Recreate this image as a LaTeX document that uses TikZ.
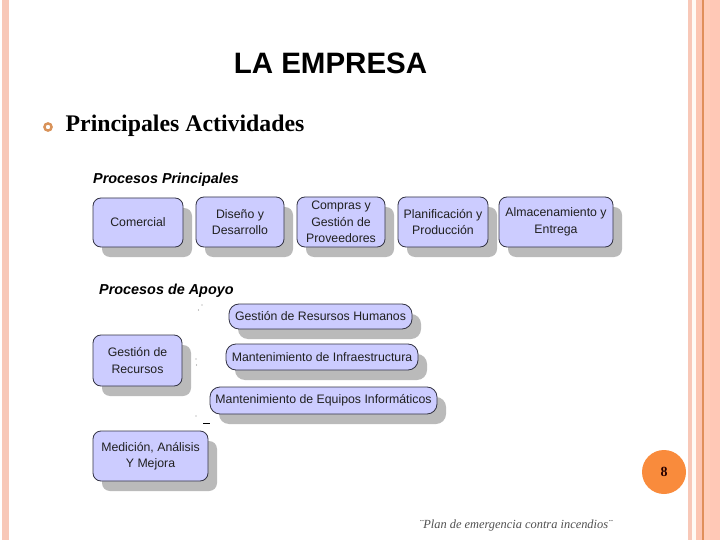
\documentclass[tikz,border=0pt]{standalone}
\usepackage{fontspec}
\setmainfont{Liberation Serif}
\setsansfont{Liberation Sans}
\usetikzlibrary{shadows}
\definecolor{boxfill}{HTML}{CCCCFF}
\definecolor{boxline}{HTML}{333344}
\definecolor{boxtext}{HTML}{202020}
\definecolor{stripeA}{HTML}{F8C8B8}
\definecolor{stripeB}{HTML}{FCC6B2}
\definecolor{stripeC}{HTML}{FFCDB8}
\definecolor{stripeD}{HTML}{FFC8B6}
\definecolor{stripeLine}{HTML}{E0905A}
\definecolor{cream}{HTML}{FFFAF4}
\definecolor{bulletc}{HTML}{D9935A}
\definecolor{pageorange}{HTML}{F98B3C}
\definecolor{footgray}{HTML}{505050}
\begin{document}
\begin{tikzpicture}[x=1pt,y=-1pt,
  procbox/.style={draw=boxline, fill=boxfill, rounded corners=8pt, line width=0.8pt,
    font=\sffamily\fontsize{12.3}{16.5}\selectfont, text=boxtext, align=center, inner sep=0pt,
    drop shadow={shadow xshift=9pt, shadow yshift=-10pt, fill=black!27, opacity=1}},
  pillbox/.style={procbox, rounded corners=10pt},
  heading/.style={font=\sffamily\bfseries\itshape\fontsize{14.4}{17}\selectfont, anchor=west, inner sep=0pt},
  speck/.style={fill=black!45}]
\useasboundingbox (0,0) rectangle (720,540);
\fill[white] (0,0) rectangle (720,540);
% left stripe
\fill[stripeA] (2,0) rectangle (9,540);
% right stripes
\fill[stripeA] (688,0) rectangle (692,540);
\fill[cream] (692,0) rectangle (696,540);
\fill[stripeB] (696,0) rectangle (702,540);
\fill[stripeLine] (702,0) rectangle (703.5,540);
\fill[stripeC] (703.5,0) rectangle (710,540);
\fill[stripeD] (710,0) rectangle (720,540);
% title
\node[font=\sffamily\bfseries\fontsize{29.5}{35}\selectfont] (title) at (330.5,63) {LA EMPRESA};
% bullet
\draw[bulletc, line width=2.4pt] (48,127) circle (3.6);
\node[font=\bfseries\fontsize{23.8}{28}\selectfont, anchor=west, inner sep=0pt] (act) at (65.5,126) {Principales Actividades};
% headings
\node[heading] (hp) at (93,180) {Procesos Principales};
\node[heading] (ha) at (99,291) {Procesos de Apoyo};
% row 1
\node[procbox, minimum width=90pt, minimum height=49pt] (com) at (138,222.5) {Comercial};
\node[procbox, minimum width=88pt, minimum height=50pt] (dis) at (240,222) {Diseño y\\Desarrollo};
\node[procbox, minimum width=88pt, minimum height=50pt] (comp) at (341,222) {Compras y\\Gestión de\\Proveedores};
\node[procbox, minimum width=90pt, minimum height=50pt] (plan) at (443,222) {Planificación y\\Producción};
\node[procbox, minimum width=114pt, minimum height=50pt] (alm) at (556,222) {Almacenamiento y\\Entrega};
% support processes
\node[pillbox, minimum width=183pt, minimum height=25pt] (ghum) at (320.5,316.5) {Gestión de Resursos Humanos};
\node[pillbox, minimum width=192pt, minimum height=26pt] (minf) at (322,357) {Mantenimiento de Infraestructura};
\node[pillbox, minimum width=227pt, minimum height=27pt] (mequ) at (323.5,400.5) {Mantenimiento de Equipos Informáticos};
\node[procbox, minimum width=89pt, minimum height=51pt] (grec) at (137.5,360.5) {Gestión de\\Recursos};
\node[procbox, minimum width=115pt, minimum height=50pt] (med) at (150.5,456) {Medición, Análisis\\Y Mejora};
% small specks
\fill[speck] (202,305) circle (0.6);
\fill[speck] (198.5,310) circle (0.6);
\fill[speck] (196,359) circle (0.6);
\fill[speck] (196.5,365) circle (0.6);
\fill[speck] (196,416) circle (0.6);
\draw[line width=0.8pt] (203,423) -- (210,423);
% page number
\node[circle, fill=pageorange, minimum size=44pt, inner sep=0pt, font=\bfseries\fontsize{14}{16}\selectfont, text=black!85!red] (pg) at (664,472) {8};
% footer
\node[font=\itshape\fontsize{12.4}{14}\selectfont, text=footgray, anchor=west, inner sep=0pt] (foot) at (419,526) {¨Plan de emergencia contra incendios¨};
\end{tikzpicture}
\end{document}
